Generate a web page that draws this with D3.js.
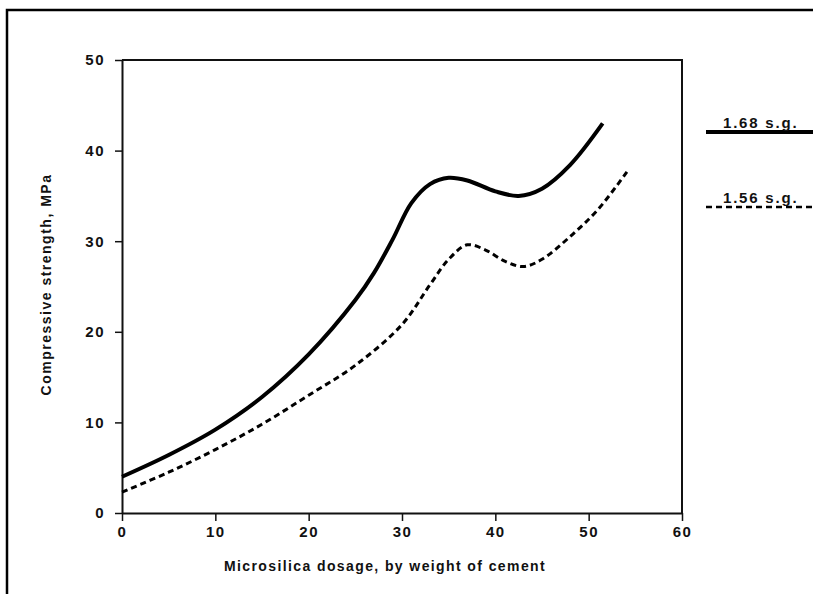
<!doctype html>
<html lang="en">
<head>
<meta charset="utf-8">
<title>Compressive strength vs microsilica dosage</title>
<script src="https://cdn.jsdelivr.net/npm/d3@7"></script>
<style>
  body { margin: 0; background: #fff; }
  svg text { font-family: "Liberation Sans", Arial, sans-serif; font-weight: bold; fill: #111; }
  .axis path, .axis line { stroke: #111; }
</style>
</head>
<body>
<svg width="813" height="594"></svg>
<script>
// values
var solidX = [0, 5, 10, 15, 20, 25, 27, 29, 31, 33, 35, 37, 40, 42.5, 45, 48, 51.5];
var solidY = [4, 6.4, 9.2, 12.8, 17.5, 23.5, 26.5, 30.2, 34.2, 36.3, 37, 36.7, 35.5, 35, 35.8, 38.4, 43];

var dashX = [0, 5, 10, 15, 20, 25, 30, 33, 35, 37, 39, 41, 43, 45, 48, 51, 54.2];
var dashY = [2.3, 4.5, 7, 9.8, 13, 16.3, 20.8, 25.2, 28, 29.6, 29, 27.8, 27.2, 28, 30.5, 33.5, 37.8];

var xTicks = [0, 10, 20, 30, 40, 50, 60];
var yTicks = [0, 10, 20, 30, 40, 50];
var seriesNames = ["1.68 s.g.", "1.56 s.g."];

var svg = d3.select("svg");

// outer frame (open at right/bottom like the scan)
svg.append("path")
    .attr("d", "M7,594 V10 H813")
    .attr("fill", "none")
    .attr("stroke", "#000")
    .attr("stroke-width", 2.5);

var margin = {left: 122, top: 60, right: 131, bottom: 81};
var width = 813 - margin.left - margin.right;
var height = 594 - margin.top - margin.bottom;

var g = svg.append("g")
    .attr("transform", "translate(" + margin.left + "," + margin.top + ")");

var x = d3.scaleLinear().domain([0, 60]).range([0, width]);
var y = d3.scaleLinear().domain([0, 50]).range([height, 0]);

// box top + right
g.append("path")
    .attr("d", "M0,0 H" + width + " V" + height)
    .attr("fill", "none")
    .attr("stroke", "#111")
    .attr("stroke-width", 2);

var xAxis = g.append("g")
    .attr("class", "axis")
    .attr("transform", "translate(0," + height + ")")
    .call(d3.axisBottom(x).tickValues(xTicks).tickSize(8).tickPadding(5).tickSizeOuter(0));
xAxis.select(".domain").attr("stroke-width", 2);
xAxis.selectAll(".tick line").attr("stroke-width", 1.5);
xAxis.selectAll("text").style("font-size", "15px").style("letter-spacing", "1.5px");

var yAxis = g.append("g")
    .attr("class", "axis")
    .call(d3.axisLeft(y).tickValues(yTicks).tickSize(7).tickPadding(10).tickSizeOuter(0));
yAxis.select(".domain").attr("stroke-width", 2);
yAxis.selectAll(".tick line").attr("stroke-width", 1.5);
yAxis.selectAll("text").style("font-size", "15px").style("letter-spacing", "1.5px");

g.append("text")
    .attr("x", width / 2 - 17)
    .attr("y", height + 58)
    .attr("text-anchor", "middle")
    .style("font-size", "14px")
    .style("letter-spacing", "1.4px")
    .text("Microsilica dosage, by weight of cement");

g.append("text")
    .attr("transform", "translate(-71," + (height / 2 - 2) + ") rotate(-90)")
    .attr("text-anchor", "middle")
    .style("font-size", "14px")
    .style("letter-spacing", "1.5px")
    .text("Compressive strength, MPa");

var line = d3.line()
    .curve(d3.curveCatmullRom.alpha(0.5))
    .x(function(d) { return x(d[0]); })
    .y(function(d) { return y(d[1]); });

var solid = d3.zip(solidX, solidY);
var dashed = d3.zip(dashX, dashY);

g.append("path")
    .datum(solid)
    .attr("fill", "none")
    .attr("stroke", "#000")
    .attr("stroke-width", 4)
    .attr("d", line);

g.append("path")
    .datum(dashed)
    .attr("fill", "none")
    .attr("stroke", "#000")
    .attr("stroke-width", 3)
    .attr("stroke-dasharray", "6,4")
    .attr("d", line);

// legend on the right
var legend = svg.append("g");
var legY = [132, 207];
legend.selectAll("line")
    .data(seriesNames)
    .enter().append("line")
    .attr("x1", 706)
    .attr("x2", 813)
    .attr("y1", function(d, i) { return legY[i]; })
    .attr("y2", function(d, i) { return legY[i]; })
    .attr("stroke", "#000")
    .attr("stroke-width", function(d, i) { return i == 0 ? 4 : 2.5; })
    .attr("stroke-dasharray", function(d, i) { return i == 0 ? null : "6,4"; });

legend.selectAll("text")
    .data(seriesNames)
    .enter().append("text")
    .attr("x", 723)
    .attr("y", function(d, i) { return legY[i] - 4; })
    .style("font-size", "15px")
    .style("letter-spacing", "1.8px")
    .text(function(d) { return d; });
</script>
</body>
</html>
